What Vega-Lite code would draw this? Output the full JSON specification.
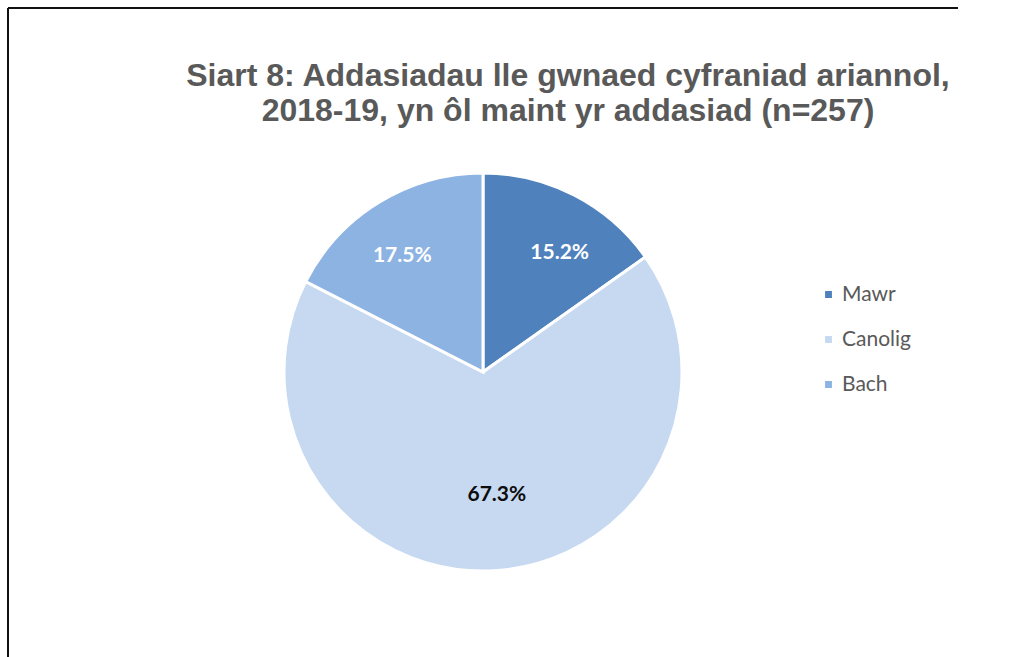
{
  "$schema": "https://vega.github.io/schema/vega-lite/v6.json",
  "width": 950,
  "height": 728,
  "autosize": {"type": "none"},
  "padding": {"left": 8, "top": 8, "right": 0, "bottom": 0},
  "background": "white",
  "view": {"stroke": "#111111", "strokeWidth": 2, "strokeDash": [950, 1678, 728, 0]},
  "title": {
    "text": ["Siart 8: Addasiadau lle gwnaed cyfraniad ariannol,", "2018-19, yn ôl maint yr addasiad (n=257)"],
    "font": "Liberation Sans",
    "fontSize": 32,
    "fontWeight": "bold",
    "color": "#595959",
    "anchor": "middle",
    "dx": 85,
    "offset": -120,
    "lineHeight": 35
  },
  "data": {
    "values": [
      {"cat": "Mawr", "share": 0.152, "idx": 1},
      {"cat": "Canolig", "share": 0.673, "idx": 2},
      {"cat": "Bach", "share": 0.175, "idx": 3}
    ]
  },
  "encoding": {
    "theta": {"field": "share", "type": "quantitative", "stack": true},
    "order": {"field": "idx", "type": "quantitative"}
  },
  "layer": [
    {
      "mark": {"type": "arc", "outerRadius": 199, "stroke": "white", "strokeWidth": 3},
      "encoding": {
        "color": {
          "field": "cat",
          "type": "nominal",
          "scale": {"domain": ["Mawr", "Canolig", "Bach"], "range": ["#4F81BD", "#C6D9F1", "#8DB3E2"]},
          "legend": {
            "title": null,
            "orient": "none",
            "legendX": 810,
            "legendY": 276,
            "symbolType": "square",
            "symbolSize": 70,
            "labelFont": "Lato",
            "labelFontSize": 21,
            "labelColor": "#595959",
            "labelOffset": 3,
            "rowPadding": 23
          }
        }
      }
    },
    {
      "mark": {"type": "text", "radius": 143, "dx": 11, "dy": 8, "font": "Lato", "fontSize": 21, "fontWeight": "bold", "color": "white"},
      "encoding": {
        "text": {"condition": {"test": "datum.cat !== 'Mawr'", "value": ""}, "field": "share", "type": "quantitative", "format": ".1%"}
      }
    },
    {
      "mark": {"type": "text", "radius": 143, "dx": -6, "dy": 6, "font": "Lato", "fontSize": 21, "fontWeight": "bold", "color": "white"},
      "encoding": {
        "text": {"condition": {"test": "datum.cat !== 'Bach'", "value": ""}, "field": "share", "type": "quantitative", "format": ".1%"}
      }
    },
    {
      "mark": {"type": "text", "radius": 123, "dx": 5, "font": "Lato", "fontSize": 21, "fontWeight": "bold", "color": "#0d0d0d"},
      "encoding": {
        "text": {"condition": {"test": "datum.cat !== 'Canolig'", "value": ""}, "field": "share", "type": "quantitative", "format": ".1%"}
      }
    }
  ]
}
